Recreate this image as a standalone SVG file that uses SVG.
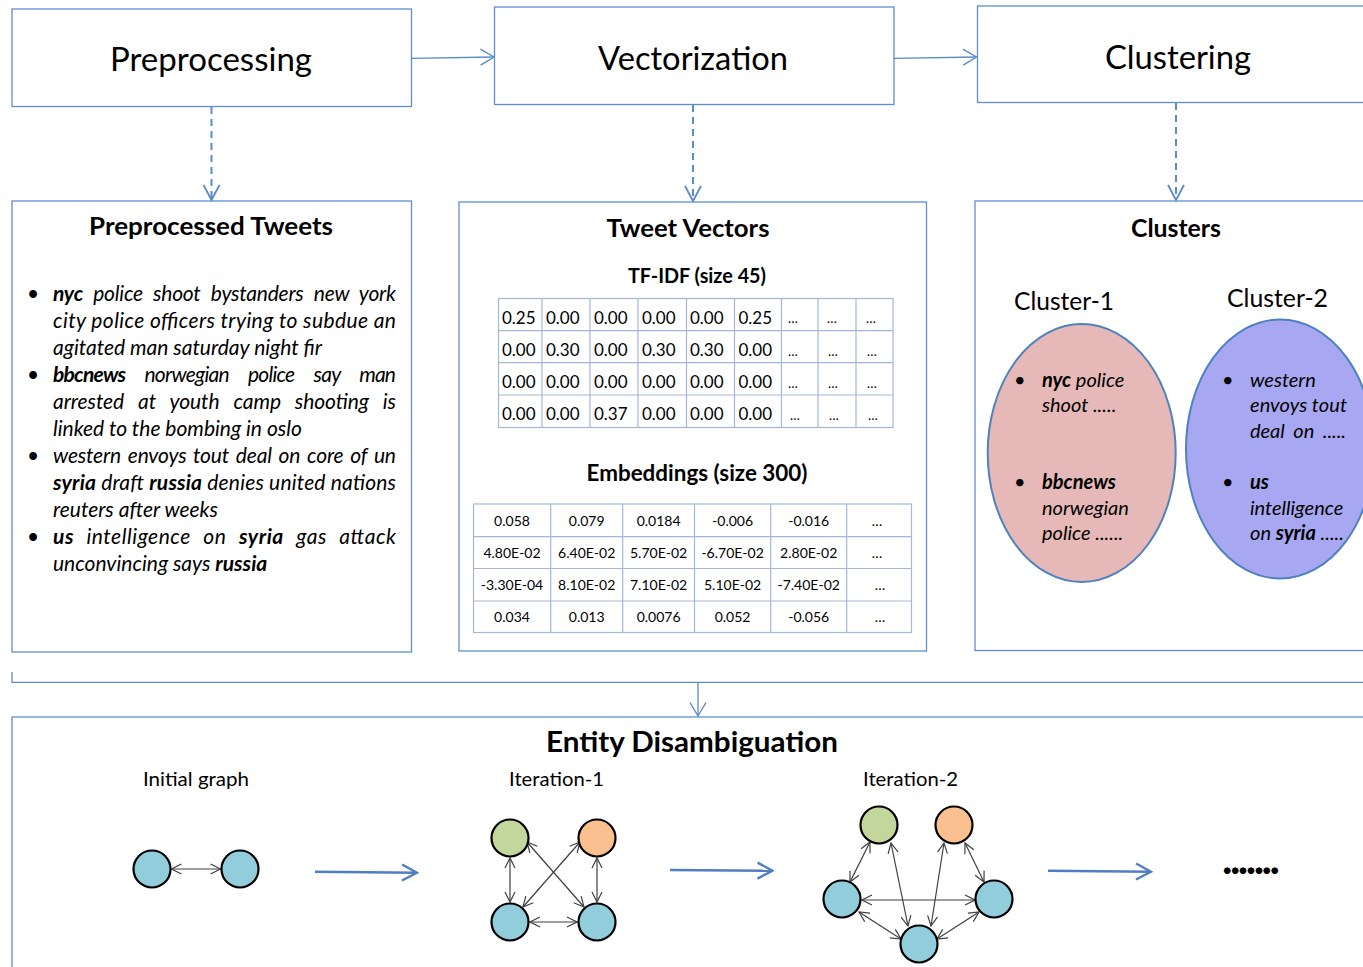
<svg xmlns="http://www.w3.org/2000/svg" width="1363" height="967" viewBox="0 0 1363 967">
<style>
text{font-family:Lato,"Open Sans","Liberation Sans",sans-serif;fill:#000}
.box{fill:#fff;stroke:#5E8ED2;stroke-width:1.3}
.conn{stroke:#5B8BCB;stroke-width:1.3;fill:none}
.dash{stroke:#5B8BCB;stroke-width:2;stroke-dasharray:7 5;fill:none}
.big{stroke:#4F7FC0;stroke-width:2.5;fill:none}
.grid{stroke:#A3B8D8;stroke-width:1.2;fill:none}
.edge{stroke:#404040;stroke-width:1.2;fill:none;marker-start:url(#ah);marker-end:url(#ah)}
.node{stroke:#000;stroke-width:2.2}
.blue{fill:#92CDDC}.green{fill:#C3D69B}.orange{fill:#FAC090}
.h1{font-size:33px}
.h2{font-size:25px;font-weight:bold}
.tw{font-size:21px;font-style:italic}
.b{font-weight:bold}
.cell{font-size:17px}
.emb{font-size:14px;text-anchor:middle}
.cl{font-size:20px;font-style:italic}
.lab{font-size:20px;text-anchor:middle}
</style>
<defs>
<marker id="ah" viewBox="0 0 12 12" refX="11" refY="6" markerWidth="12" markerHeight="12" markerUnits="userSpaceOnUse" orient="auto-start-reverse"><path d="M1,1 L11,6 L1,11" fill="none" stroke="#404040" stroke-width="1.2"/></marker>
<marker id="bh" viewBox="0 0 16 18" refX="14.5" refY="9" markerWidth="16" markerHeight="18" markerUnits="userSpaceOnUse" orient="auto"><path d="M1,1 L14.5,9 L1,17" fill="none" stroke="#5B8BCB" stroke-width="1.4"/></marker>
<marker id="dh" viewBox="0 0 18 18" refX="16" refY="9" markerWidth="18" markerHeight="18" markerUnits="userSpaceOnUse" orient="auto"><path d="M1,1 L16,9 L1,17" fill="none" stroke="#5B8BCB" stroke-width="1.8"/></marker>
<marker id="gh" viewBox="0 0 18 20" refX="16" refY="10" markerWidth="18" markerHeight="20" markerUnits="userSpaceOnUse" orient="auto"><path d="M1,2 L16,10 L1,18" fill="none" stroke="#4F7FC0" stroke-width="2.4"/></marker>
</defs>
<rect width="1363" height="967" fill="#fff"/>

<g id="preprocessing">
<rect class="box" x="12" y="9" width="399.5" height="97.5"/>
<text class="h1" x="211" y="71" text-anchor="middle" textLength="202" lengthAdjust="spacingAndGlyphs">Preprocessing</text>
</g>
<g id="vectorization">
<rect class="box" x="494.5" y="7" width="399.5" height="97.5"/>
<text class="h1" x="693" y="70" text-anchor="middle" textLength="190" lengthAdjust="spacingAndGlyphs">Vectorization</text>
</g>
<g id="clustering">
<rect class="box" x="977.5" y="6" width="400" height="96.5"/>
<text class="h1" x="1178" y="69" text-anchor="middle" textLength="146" lengthAdjust="spacingAndGlyphs">Clustering</text>
</g>

<g id="preprocessed-tweets">
<rect class="box" x="12" y="201" width="399.5" height="451"/>
<text class="h2" x="211" y="235" text-anchor="middle" textLength="244" lengthAdjust="spacingAndGlyphs">Preprocessed Tweets</text>
<g class="tw">
<text x="27" y="301">•</text>
<text x="53" y="301" word-spacing="5.5" textLength="343" lengthAdjust="spacing"><tspan class="b">nyc</tspan> police shoot bystanders new york</text>
<text x="53" y="328" textLength="343" lengthAdjust="spacing">city police officers trying to subdue an</text>
<text x="53" y="354.5">agitated man saturday night fir</text>
<text x="27" y="382">•</text>
<text x="53" y="382" word-spacing="15" textLength="343" lengthAdjust="spacing"><tspan class="b">bbcnews</tspan> norwegian police say man</text>
<text x="53" y="409" word-spacing="9" textLength="343" lengthAdjust="spacing">arrested at youth camp shooting is</text>
<text x="53" y="435.5">linked to the bombing in oslo</text>
<text x="27" y="463">•</text>
<text x="53" y="463" word-spacing="2" textLength="343" lengthAdjust="spacing">western envoys tout deal on core of un</text>
<text x="53" y="490" textLength="343" lengthAdjust="spacing"><tspan class="b">syria</tspan> draft <tspan class="b">russia</tspan> denies united nations</text>
<text x="53" y="517">reuters after weeks</text>
<text x="27" y="544">•</text>
<text x="53" y="544" word-spacing="7" textLength="343" lengthAdjust="spacing"><tspan class="b">us</tspan> intelligence on <tspan class="b">syria</tspan> gas attack</text>
<text x="53" y="571">unconvincing says <tspan class="b">russia</tspan></text>
</g>
</g>

<g id="tweet-vectors">
<rect class="box" x="459" y="202" width="467.5" height="449"/>
<text class="h2" x="688" y="237" text-anchor="middle" textLength="163" lengthAdjust="spacingAndGlyphs">Tweet Vectors</text>
<text x="697" y="283" font-size="20" font-weight="bold" text-anchor="middle" textLength="138" lengthAdjust="spacingAndGlyphs">TF-IDF (size 45)</text>
<g id="tfidf-table">
<rect class="grid" x="498.5" y="298.5" width="394.5" height="129"/>
<path class="grid" d="M498.5,330.7H893M498.5,362.7H893M498.5,395H893M542,298.5V427.5M590,298.5V427.5M638,298.5V427.5M686.5,298.5V427.5M734.5,298.5V427.5M781.5,298.5V427.5M818,298.5V427.5M856,298.5V427.5"/>
<g class="cell">
<text x="502" y="324">0.25</text><text x="546" y="324">0.00</text><text x="594" y="324">0.00</text><text x="642" y="324">0.00</text><text x="690" y="324">0.00</text><text x="738.5" y="324">0.25</text>
<text x="502" y="356">0.00</text><text x="546" y="356">0.30</text><text x="594" y="356">0.00</text><text x="642" y="356">0.30</text><text x="690" y="356">0.30</text><text x="738.5" y="356">0.00</text>
<text x="502" y="388">0.00</text><text x="546" y="388">0.00</text><text x="594" y="388">0.00</text><text x="642" y="388">0.00</text><text x="690" y="388">0.00</text><text x="738.5" y="388">0.00</text>
<text x="502" y="420">0.00</text><text x="546" y="420">0.00</text><text x="594" y="420">0.37</text><text x="642" y="420">0.00</text><text x="690" y="420">0.00</text><text x="738.5" y="420">0.00</text>
</g>
<g font-size="13">
<text x="788" y="323">…</text><text x="827" y="323">…</text><text x="866" y="323">…</text>
<text x="788" y="356">…</text><text x="828" y="356">…</text><text x="867" y="356">…</text>
<text x="788" y="388">…</text><text x="828" y="388">…</text><text x="867" y="388">…</text>
<text x="790" y="420">…</text><text x="829" y="420">…</text><text x="868" y="420">…</text>
</g>
</g>
<text x="697" y="481" font-size="22" font-weight="bold" text-anchor="middle" textLength="221" lengthAdjust="spacingAndGlyphs">Embeddings (size 300)</text>
<g id="embeddings-table">
<rect class="grid" x="473.5" y="504" width="438" height="128.5"/>
<path class="grid" d="M473.5,536.7H911.5M473.5,568.5H911.5M473.5,601H911.5M550.7,504V632.5M622.7,504V632.5M694.5,504V632.5M770.7,504V632.5M846.7,504V632.5"/>
<g class="emb">
<text x="512" y="526">0.058</text><text x="586.7" y="526">0.079</text><text x="658.6" y="526">0.0184</text><text x="732.6" y="526">-0.006</text><text x="808.7" y="526">-0.016</text><text x="877" y="526">…</text>
<text x="512" y="558">4.80E-02</text><text x="586.7" y="558">6.40E-02</text><text x="658.6" y="558">5.70E-02</text><text x="732.6" y="558">-6.70E-02</text><text x="808.7" y="558">2.80E-02</text><text x="877" y="558">…</text>
<text x="512" y="590">-3.30E-04</text><text x="586.7" y="590">8.10E-02</text><text x="658.6" y="590">7.10E-02</text><text x="732.6" y="590">5.10E-02</text><text x="808.7" y="590">-7.40E-02</text><text x="880" y="590">…</text>
<text x="512" y="622">0.034</text><text x="586.7" y="622">0.013</text><text x="658.6" y="622">0.0076</text><text x="732.6" y="622">0.052</text><text x="808.7" y="622">-0.056</text><text x="880" y="622">…</text>
</g>
</g>
</g>

<g id="clusters">
<rect class="box" x="975" y="201" width="400" height="449.5"/>
<text class="h2" x="1176" y="237" text-anchor="middle" textLength="90" lengthAdjust="spacingAndGlyphs">Clusters</text>
<text x="1064" y="310" font-size="25" text-anchor="middle" textLength="100" lengthAdjust="spacingAndGlyphs">Cluster-1</text>
<text x="1277.5" y="307" font-size="25" text-anchor="middle" textLength="101" lengthAdjust="spacingAndGlyphs">Cluster-2</text>
<g id="cluster-1">
<ellipse cx="1081.7" cy="453" rx="94" ry="129" fill="#E6B9B8" stroke="#4F81BD" stroke-width="2"/>
<g class="cl">
<text x="1014" y="386.5">•</text>
<text x="1042" y="386.5"><tspan class="b">nyc</tspan> police</text>
<text x="1042" y="412">shoot .....</text>
<text x="1014" y="488.5">•</text>
<text x="1042" y="488.5" class="b">bbcnews</text>
<text x="1042" y="514.5">norwegian</text>
<text x="1042" y="540">police ......</text>
</g>
</g>
<g id="cluster-2">
<ellipse cx="1280" cy="449" rx="94" ry="129.5" fill="#A8A8F2" stroke="#4F81BD" stroke-width="2"/>
<g class="cl">
<text x="1222" y="386.5">•</text>
<text x="1250" y="386.5">western</text>
<text x="1250" y="412" textLength="97" lengthAdjust="spacing">envoys tout</text>
<text x="1250" y="438" word-spacing="4" textLength="96" lengthAdjust="spacing">deal on .....</text>
<text x="1222" y="488.5">•</text>
<text x="1250" y="488.5" class="b">us</text>
<text x="1250" y="514.5">intelligence</text>
<text x="1250" y="540">on <tspan class="b">syria</tspan> .....</text>
</g>
</g>
</g>

<g id="entity-disambiguation">
<rect class="box" x="12" y="717" width="1370" height="280"/>
<text x="692" y="752" font-size="28" font-weight="bold" text-anchor="middle" textLength="292" lengthAdjust="spacingAndGlyphs">Entity Disambiguation</text>
<g id="initial-graph">
<text class="lab" x="196" y="786" textLength="106" lengthAdjust="spacingAndGlyphs">Initial graph</text>
<path class="edge" d="M171.5,869H220.5"/>
<circle class="node blue" cx="152" cy="869" r="18.5"/>
<circle class="node blue" cx="240" cy="869" r="18.5"/>
</g>
<g id="iteration-1">
<text class="lab" x="556.5" y="786" textLength="95" lengthAdjust="spacingAndGlyphs">Iteration-1</text>
<path class="edge" d="M510,858V902"/>
<path class="edge" d="M597,858V902"/>
<path class="edge" d="M530,922H577"/>
<path class="edge" d="M527,842L584,907"/>
<path class="edge" d="M580,842L523,907"/>
<circle class="node green" cx="510" cy="838" r="18.5"/>
<circle class="node orange" cx="597" cy="838" r="18.5"/>
<circle class="node blue" cx="510" cy="922" r="18.5"/>
<circle class="node blue" cx="597" cy="922" r="18.5"/>
</g>
<g id="iteration-2">
<text class="lab" x="910.5" y="786" textLength="95" lengthAdjust="spacingAndGlyphs">Iteration-2</text>
<path class="edge" d="M870,842L850,882"/>
<path class="edge" d="M891,843L908,926"/>
<path class="edge" d="M944,843L931,926"/>
<path class="edge" d="M965,843L984,882"/>
<path class="edge" d="M862,900H975"/>
<path class="edge" d="M859,912L901,939"/>
<path class="edge" d="M937,939L979,912"/>
<circle class="node green" cx="879" cy="825" r="18.5"/>
<circle class="node orange" cx="954" cy="825" r="18.5"/>
<circle class="node blue" cx="842" cy="899" r="18.5"/>
<circle class="node blue" cx="994" cy="899" r="18.5"/>
<circle class="node blue" cx="919" cy="944" r="18.5"/>
</g>
<text x="1222" y="874" font-size="44" font-weight="bold" textLength="58" lengthAdjust="spacing">.......</text>
</g>

<g id="connectors">
<path class="conn" d="M412,58.3L494,57" marker-end="url(#bh)"/>
<path class="conn" d="M894,58.3L976.5,57" marker-end="url(#bh)"/>
<path class="dash" d="M211.5,107V200" marker-end="url(#dh)"/>
<path class="dash" d="M693,105V201" marker-end="url(#dh)"/>
<path class="dash" d="M1176,103V200" marker-end="url(#dh)"/>
<path class="conn" d="M12,672V682.3H1370"/>
<path class="conn" d="M698,682.3V716" marker-end="url(#bh)"/>
<path class="big" d="M315,871.7L417,872.7" marker-end="url(#gh)"/>
<path class="big" d="M670,870L772.5,870.7" marker-end="url(#gh)"/>
<path class="big" d="M1048,870.7L1151,871.7" marker-end="url(#gh)"/>
</g>
</svg>
